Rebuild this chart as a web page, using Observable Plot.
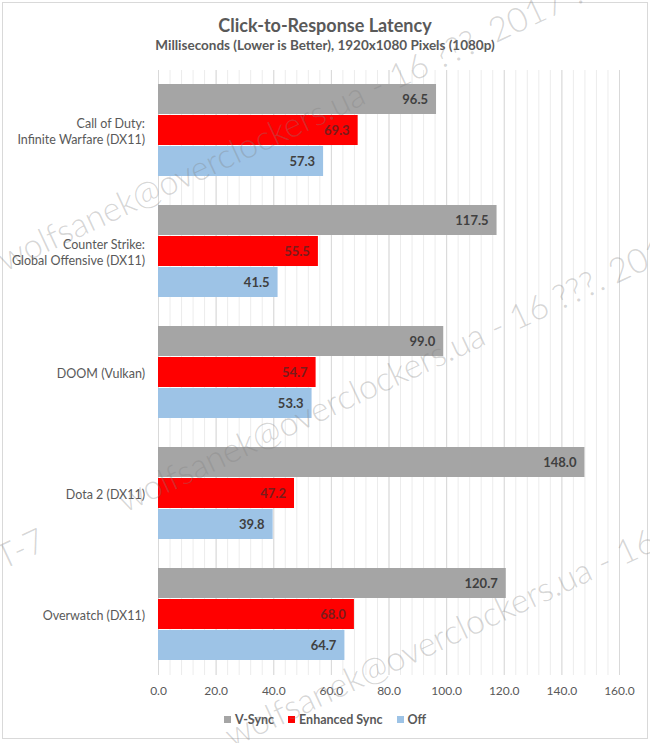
<!DOCTYPE html>
<html>
<head>
<meta charset="utf-8">
<script src="https://cdn.jsdelivr.net/npm/d3@7"></script>
<script src="https://cdn.jsdelivr.net/npm/@observablehq/plot@0.6"></script>
<style>
  html, body { margin: 0; padding: 0; background: #fff; }
  #wrap { position: relative; width: 650px; height: 743px; overflow: hidden; font-family: Lato, "Noto Sans", sans-serif; }
  #border { position: absolute; left: 2px; top: 2px; width: 644px; height: 735px; border: 1px solid #d9d9d9; }
  #title { position: absolute; left: 0; width: 650px; top: 15px; line-height: 20px; text-align: center; font-size: 18px; font-weight: bold; color: #595959; }
  #subtitle { position: absolute; left: 0; width: 650px; top: 37px; line-height: 16px; text-align: center; font-size: 13.5px; font-weight: bold; color: #595959; }
  #chart { position: absolute; left: 0; top: 60px; }
  #legend { position: absolute; left: 0; width: 650px; top: 711px; height: 16px; display: flex; justify-content: center; align-items: center; font-size: 12.5px; font-weight: bold; color: #595959; }
  .item { display: flex; align-items: center; margin: 0 7px; }
  .sw { width: 7px; height: 7px; margin-right: 4px; }
  #wm { position: absolute; left: 0; top: 0; pointer-events: none; }
</style>
</head>
<body>
<div id="wrap">
  <div id="border"></div>
  <div id="title">Click-to-Response Latency</div>
  <div id="subtitle">Milliseconds (Lower is Better), 1920x1080 Pixels (1080p)</div>
  <div id="chart"></div>
  <div id="legend"></div>
</div>
<script>
const games = [
  "Call of Duty:\nInfinite Warfare (DX11)",
  "Counter Strike:\nGlobal Offensive (DX11)",
  "DOOM (Vulkan)",
  "Dota 2 (DX11)",
  "Overwatch (DX11)"
];
const series = ["V-Sync", "Enhanced Sync", "Off"];
const vsync    = [96.5, 117.5, 99.0, 148.0, 120.7];
const enhanced = [69.3, 55.5, 54.7, 47.2, 68.0];
const off      = [57.3, 41.5, 53.3, 39.8, 64.7];
const xTicks = [0, 20, 40, 60, 80, 100, 120, 140, 160];
const minorTicks = [0,4,8,12,16,20,24,28,32,36,40,44,48,52,56,60,64,68,72,76,80,84,88,92,96,100,104,108,112,116,120,124,128,132,136,140,144,148,152,156,160];
const colors = ["#A5A5A5", "#FF0000", "#9DC3E6"];
const watermark = "wolfsanek@overclockers.ua - 16 ???. 2017 ?.";

const valuesBySeries = [vsync, enhanced, off];
const rows = games.flatMap((g, i) => series.map((s, j) => ({game: g, series: s, value: valuesBySeries[j][i]})));

// gridlines extend across the gaps between facet bands
const gap = 13;

const chart = Plot.plot({
  width: 650,
  height: 645,
  marginTop: 10,
  marginBottom: 30,
  marginLeft: 158,
  marginRight: 31,
  style: {fontFamily: "Lato, 'Noto Sans', sans-serif", background: "transparent", overflow: "visible"},
  x: {domain: [0, 160], axis: null, label: null},
  y: {domain: series, axis: null, paddingInner: 0.03, paddingOuter: 0},
  fy: {domain: games, axis: null, paddingInner: 0.215, paddingOuter: 0.1075},
  color: {domain: series, range: colors},
  marks: [
    Plot.ruleX(minorTicks, {x: d => d, stroke: "#ececec", strokeWidth: 1, insetTop: -gap, insetBottom: -gap}),
    Plot.ruleX(xTicks, {x: d => d, stroke: "#d9d9d9", strokeWidth: 1, insetTop: -gap, insetBottom: -gap}),
    Plot.barX(rows, {fy: "game", y: "series", x: "value", fill: "series"}),
    Plot.text(rows, {
      fy: "game", y: "series", x: "value",
      text: d => d.value.toFixed(1),
      textAnchor: "end", dx: -8.5,
      fill: d => d.series === "Enhanced Sync" ? "#7a1c1c" : "#404040",
      fontWeight: "bold", fontSize: 13
    }),
    Plot.text(games, {
      fy: d => d, text: d => d,
      frameAnchor: "left", textAnchor: "end", dx: -13.5,
      fill: "#595959", fontSize: 12.5, lineHeight: 1.28
    }),
    Plot.axisX(xTicks, {
      tickSize: 0, tickPadding: 24, label: null,
      tickFormat: d => d.toFixed(1),
      fill: "#595959", fontSize: 12
    })
  ]
});
document.getElementById("chart").appendChild(chart);

// legend
const legend = document.getElementById("legend");
series.forEach((s, i) => {
  const item = document.createElement("div");
  item.className = "item";
  const sw = document.createElement("div");
  sw.className = "sw";
  sw.style.background = colors[i];
  const t = document.createElement("span");
  t.textContent = s;
  item.appendChild(sw);
  item.appendChild(t);
  legend.appendChild(item);
});

// watermark overlay
const ns = "http://www.w3.org/2000/svg";
const wm = document.createElementNS(ns, "svg");
wm.setAttribute("id", "wm");
wm.setAttribute("width", 650);
wm.setAttribute("height", 743);
const lines = [
  {x: 5, y: 272, pre: false},
  {x: 125, y: 513, pre: true},
  {x: 232, y: 748, pre: true}
];
lines.forEach(l => {
  const g = document.createElementNS(ns, "g");
  g.setAttribute("transform", `translate(${l.x},${l.y}) rotate(-25)`);
  g.setAttribute("fill", "#808080");
  g.setAttribute("fill-opacity", "0.33");
  g.setAttribute("font-family", "Lato, 'Noto Sans', sans-serif");
  g.setAttribute("font-weight", "300");
  g.setAttribute("font-size", "34");
  const t = document.createElementNS(ns, "text");
  t.textContent = watermark + " GMT-7";
  g.appendChild(t);
  if (l.pre) {
    const p = document.createElementNS(ns, "text");
    p.setAttribute("x", -85);
    p.setAttribute("text-anchor", "end");
    p.textContent = watermark + " GMT-7";
    g.appendChild(p);
  }
  wm.appendChild(g);
});
document.getElementById("wrap").appendChild(wm);
</script>
</body>
</html>
